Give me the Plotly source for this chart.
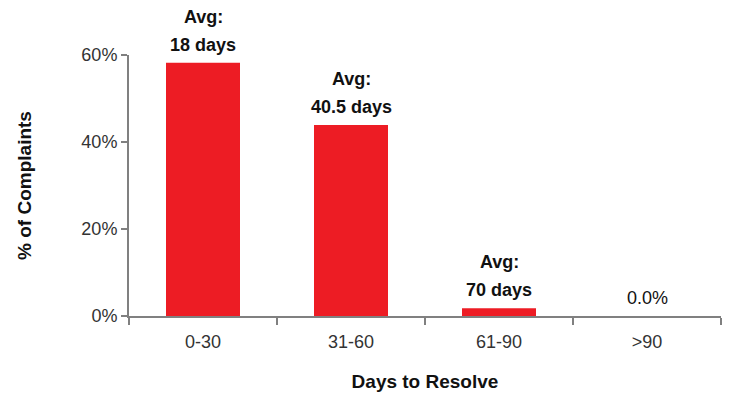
import plotly.graph_objects as go

# Share of complaints by resolution time bucket
categories = ["0-30", "31-60", "61-90", ">90"]
share_pct = [58.2, 43.9, 1.8, 0.0]
avg_days = [18, 40.5, 70, None]
y_ticks = [0, 20, 40, 60]
y_tick_text = [f"{v}%" for v in y_ticks]

RED = "#ED1C24"
AXIS = "#808080"
TEXT = "#333333"
FONT = "Liberation Sans, Arial, sans-serif"

fig = go.Figure(
    go.Bar(
        x=categories,
        y=share_pct,
        width=0.5,
        marker=dict(color=RED, line=dict(width=0)),
        hoverinfo="skip",
    )
)

# Labels above each bar: average days (two lines) or the share itself
annotations = []
for cat, val, avg in zip(categories, share_pct, avg_days):
    if avg is not None:
        for text, shift in (("Avg:", 46), (f"{avg:g} days", 18)):
            annotations.append(dict(
                x=cat, y=val, text=f"<b>{text}</b>", showarrow=False,
                yanchor="middle", yshift=shift,
                font=dict(family=FONT, size=18, color="#111111"),
            ))
    else:
        annotations.append(dict(
            x=cat, y=val, text=f"{val:.1f}%", showarrow=False,
            yanchor="middle", yshift=18,
            font=dict(family=FONT, size=18, color="#111111"),
        ))

fig.update_layout(
    width=730,
    height=394,
    margin=dict(l=129, r=9, t=55, b=78),
    paper_bgcolor="white",
    plot_bgcolor="white",
    showlegend=False,
    bargap=0.5,
    annotations=annotations,
    font=dict(family=FONT, color=TEXT),
    xaxis=dict(
        type="category",
        range=[-0.5, 3.5],
        automargin=False,
        showline=True, linecolor=AXIS, linewidth=2,
        ticks="outside", tickson="boundaries", ticklen=7, tickwidth=2, tickcolor=AXIS,
        ticklabelstandoff=8,
        showgrid=False, zeroline=False,
        tickfont=dict(family=FONT, size=18, color=TEXT),
        title=dict(text="<b>Days to Resolve</b>", standoff=24,
                   font=dict(family=FONT, size=19, color="#111111")),
        fixedrange=True,
    ),
    yaxis=dict(
        range=[0, 60],
        automargin=False,
        tickmode="array",
        tickvals=y_ticks,
        ticktext=y_tick_text,
        showline=True, linecolor=AXIS, linewidth=2,
        ticks="outside", ticklen=6, tickwidth=2, tickcolor=AXIS,
        showgrid=False, zeroline=False,
        tickfont=dict(family=FONT, size=18, color=TEXT),
        title=dict(text="<b>% of Complaints</b>", standoff=45,
                   font=dict(family=FONT, size=19, color="#111111")),
        fixedrange=True,
    ),
)

fig.write_html("out.html", config={"displayModeBar": False})
